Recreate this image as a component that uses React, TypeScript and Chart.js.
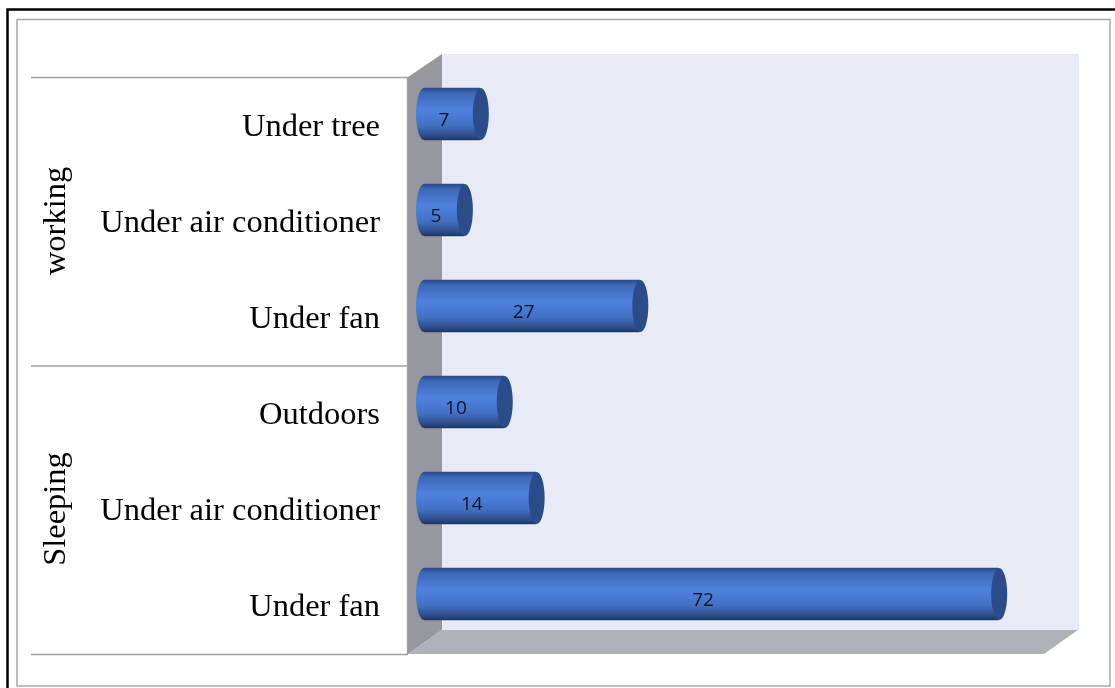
import React, { useEffect, useRef } from "react";
import { Chart, registerables } from "chart.js";

Chart.register(...registerables);

const categories = ["Under tree", "Under air conditioner", "Under fan", "Outdoors", "Under air conditioner", "Under fan"];
const values = [7, 5, 27, 10, 14, 72];
const groupLabels = ["working", "Sleeping"];
const groupSizes = [3, 3];

const SERIF = '"Liberation Serif", serif';
const SANS = '"Open Sans", "Noto Sans", sans-serif';

const cylinderGradient = (c: any, y: number, r: number) => {
  const g = c.createLinearGradient(0, y - r, 0, y + r);
  g.addColorStop(0, "#2a4a85");
  g.addColorStop(0.1, "#3d68b6");
  g.addColorStop(0.42, "#4f82e0");
  g.addColorStop(0.72, "#4270c2");
  g.addColorStop(0.92, "#2c4c88");
  g.addColorStop(1, "#1f3865");
  return g;
};

const frame3d = {
  id: "frame3d",
  beforeDraw(chart: any) {
    const c = chart.ctx;
    c.save();
    c.fillStyle = "#ffffff";
    c.fillRect(0, 0, chart.width, chart.height);
    c.strokeStyle = "#000000";
    c.lineWidth = 2.5;
    c.beginPath();
    c.moveTo(7.5, chart.height);
    c.lineTo(7.5, 9.5);
    c.lineTo(chart.width, 9.5);
    c.stroke();
    c.strokeStyle = "#a8a8a8";
    c.lineWidth = 1.5;
    c.strokeRect(17, 19.5, 1093, 666.5);
    c.restore();
  },
  beforeDatasetsDraw(chart: any) {
    const c = chart.ctx;
    const poly = (pts: number[][], fill: string) => {
      c.beginPath();
      pts.forEach((p, i) => (i ? c.lineTo(p[0], p[1]) : c.moveTo(p[0], p[1])));
      c.closePath();
      c.fillStyle = fill;
      c.fill();
    };
    c.save();
    poly([[442, 54], [1079, 54], [1079, 630], [442, 630]], "#e8eaf5");
    poly([[408, 77], [442, 54], [442, 630], [408, 654]], "#97989e");
    poly([[408, 654], [442, 630], [1078, 630], [1044, 654]], "#b0b2b9");
    c.strokeStyle = "#a0a0a0";
    c.lineWidth = 1.3;
    [77.5, 366, 654.5].forEach((y) => {
      c.beginPath();
      c.moveTo(31, y);
      c.lineTo(408, y);
      c.stroke();
    });
    c.beginPath();
    c.moveTo(407.5, 77);
    c.lineTo(407.5, 655);
    c.stroke();
    c.restore();
    chart.getDatasetMeta(0).data.forEach((bar: any) => {
      bar.options = { ...bar.options, backgroundColor: cylinderGradient(c, bar.y, bar.height / 2) };
    });
  },
  afterDatasetsDraw(chart: any) {
    const c = chart.ctx;
    const meta = chart.getDatasetMeta(0);
    c.save();
    meta.data.forEach((bar: any, i: number) => {
      const h = bar.height;
      const x0 = bar.base;
      const x1 = bar.x;
      const y = bar.y;
      const rx = 8;
      const ry = h / 2;
      c.beginPath();
      c.ellipse(x0, y, rx, ry, 0, Math.PI / 2, (3 * Math.PI) / 2);
      c.closePath();
      c.fillStyle = cylinderGradient(c, y, ry);
      c.fill();
      c.beginPath();
      c.ellipse(x1 + 1, y, rx, ry, 0, 0, Math.PI * 2);
      c.fillStyle = "#2b4c88";
      c.fill();
      c.fillStyle = "#0f1626";
      c.font = `19px ${SANS}`;
      c.textAlign = "center";
      c.textBaseline = "middle";
      c.fillText(String(values[i]), (x0 + x1) / 2 - 8, y + 7);
    });
    c.restore();
  },
  afterDraw(chart: any) {
    const c = chart.ctx;
    const yScale = chart.scales.y;
    c.save();
    c.fillStyle = "#000000";
    c.font = `32.5px ${SERIF}`;
    c.textAlign = "center";
    c.textBaseline = "middle";
    let start = 0;
    groupLabels.forEach((label, i) => {
      const first = yScale.getPixelForTick(start);
      const last = yScale.getPixelForTick(start + groupSizes[i] - 1);
      c.save();
      c.translate(56.5, (first + last) / 2 + 11);
      c.rotate(-Math.PI / 2);
      c.fillText(label, 0, 0);
      c.restore();
      start += groupSizes[i];
    });
    c.restore();
  },
};

export default function App() {
  const ref = useRef<HTMLCanvasElement>(null);
  useEffect(() => {
    const chart = new Chart(ref.current!, {
      type: "bar",
      data: {
        labels: categories,
        datasets: [
          {
            data: values,
            barThickness: 52,
            borderWidth: 0,
            backgroundColor: "#4472c4",
          },
        ],
      },
      options: {
        indexAxis: "y",
        responsive: false,
        animation: false,
        layout: { padding: { top: 66, bottom: 46, right: 53, left: 0 } },
        plugins: { legend: { display: false }, tooltip: { enabled: false } },
        scales: {
          x: { display: false, min: 0, max: 80, grid: { display: false } },
          y: {
            afterFit: (s: any) => {
              s.width = 424;
              s.paddingTop = 0;
              s.paddingBottom = 0;
            },
            grid: { display: false, drawTicks: false },
            border: { display: false },
            ticks: {
              color: "#000000",
              padding: 44,
              labelOffset: 13,
              font: { family: SERIF, size: 32.5 },
              autoSkip: false,
            },
          },
        },
      },
      plugins: [frame3d],
    } as any);
    return () => chart.destroy();
  }, []);
  return (
    <canvas
      ref={ref}
      width={1115}
      height={688}
      style={{ position: "absolute", left: 0, top: 0, display: "block" }}
    />
  );
}
